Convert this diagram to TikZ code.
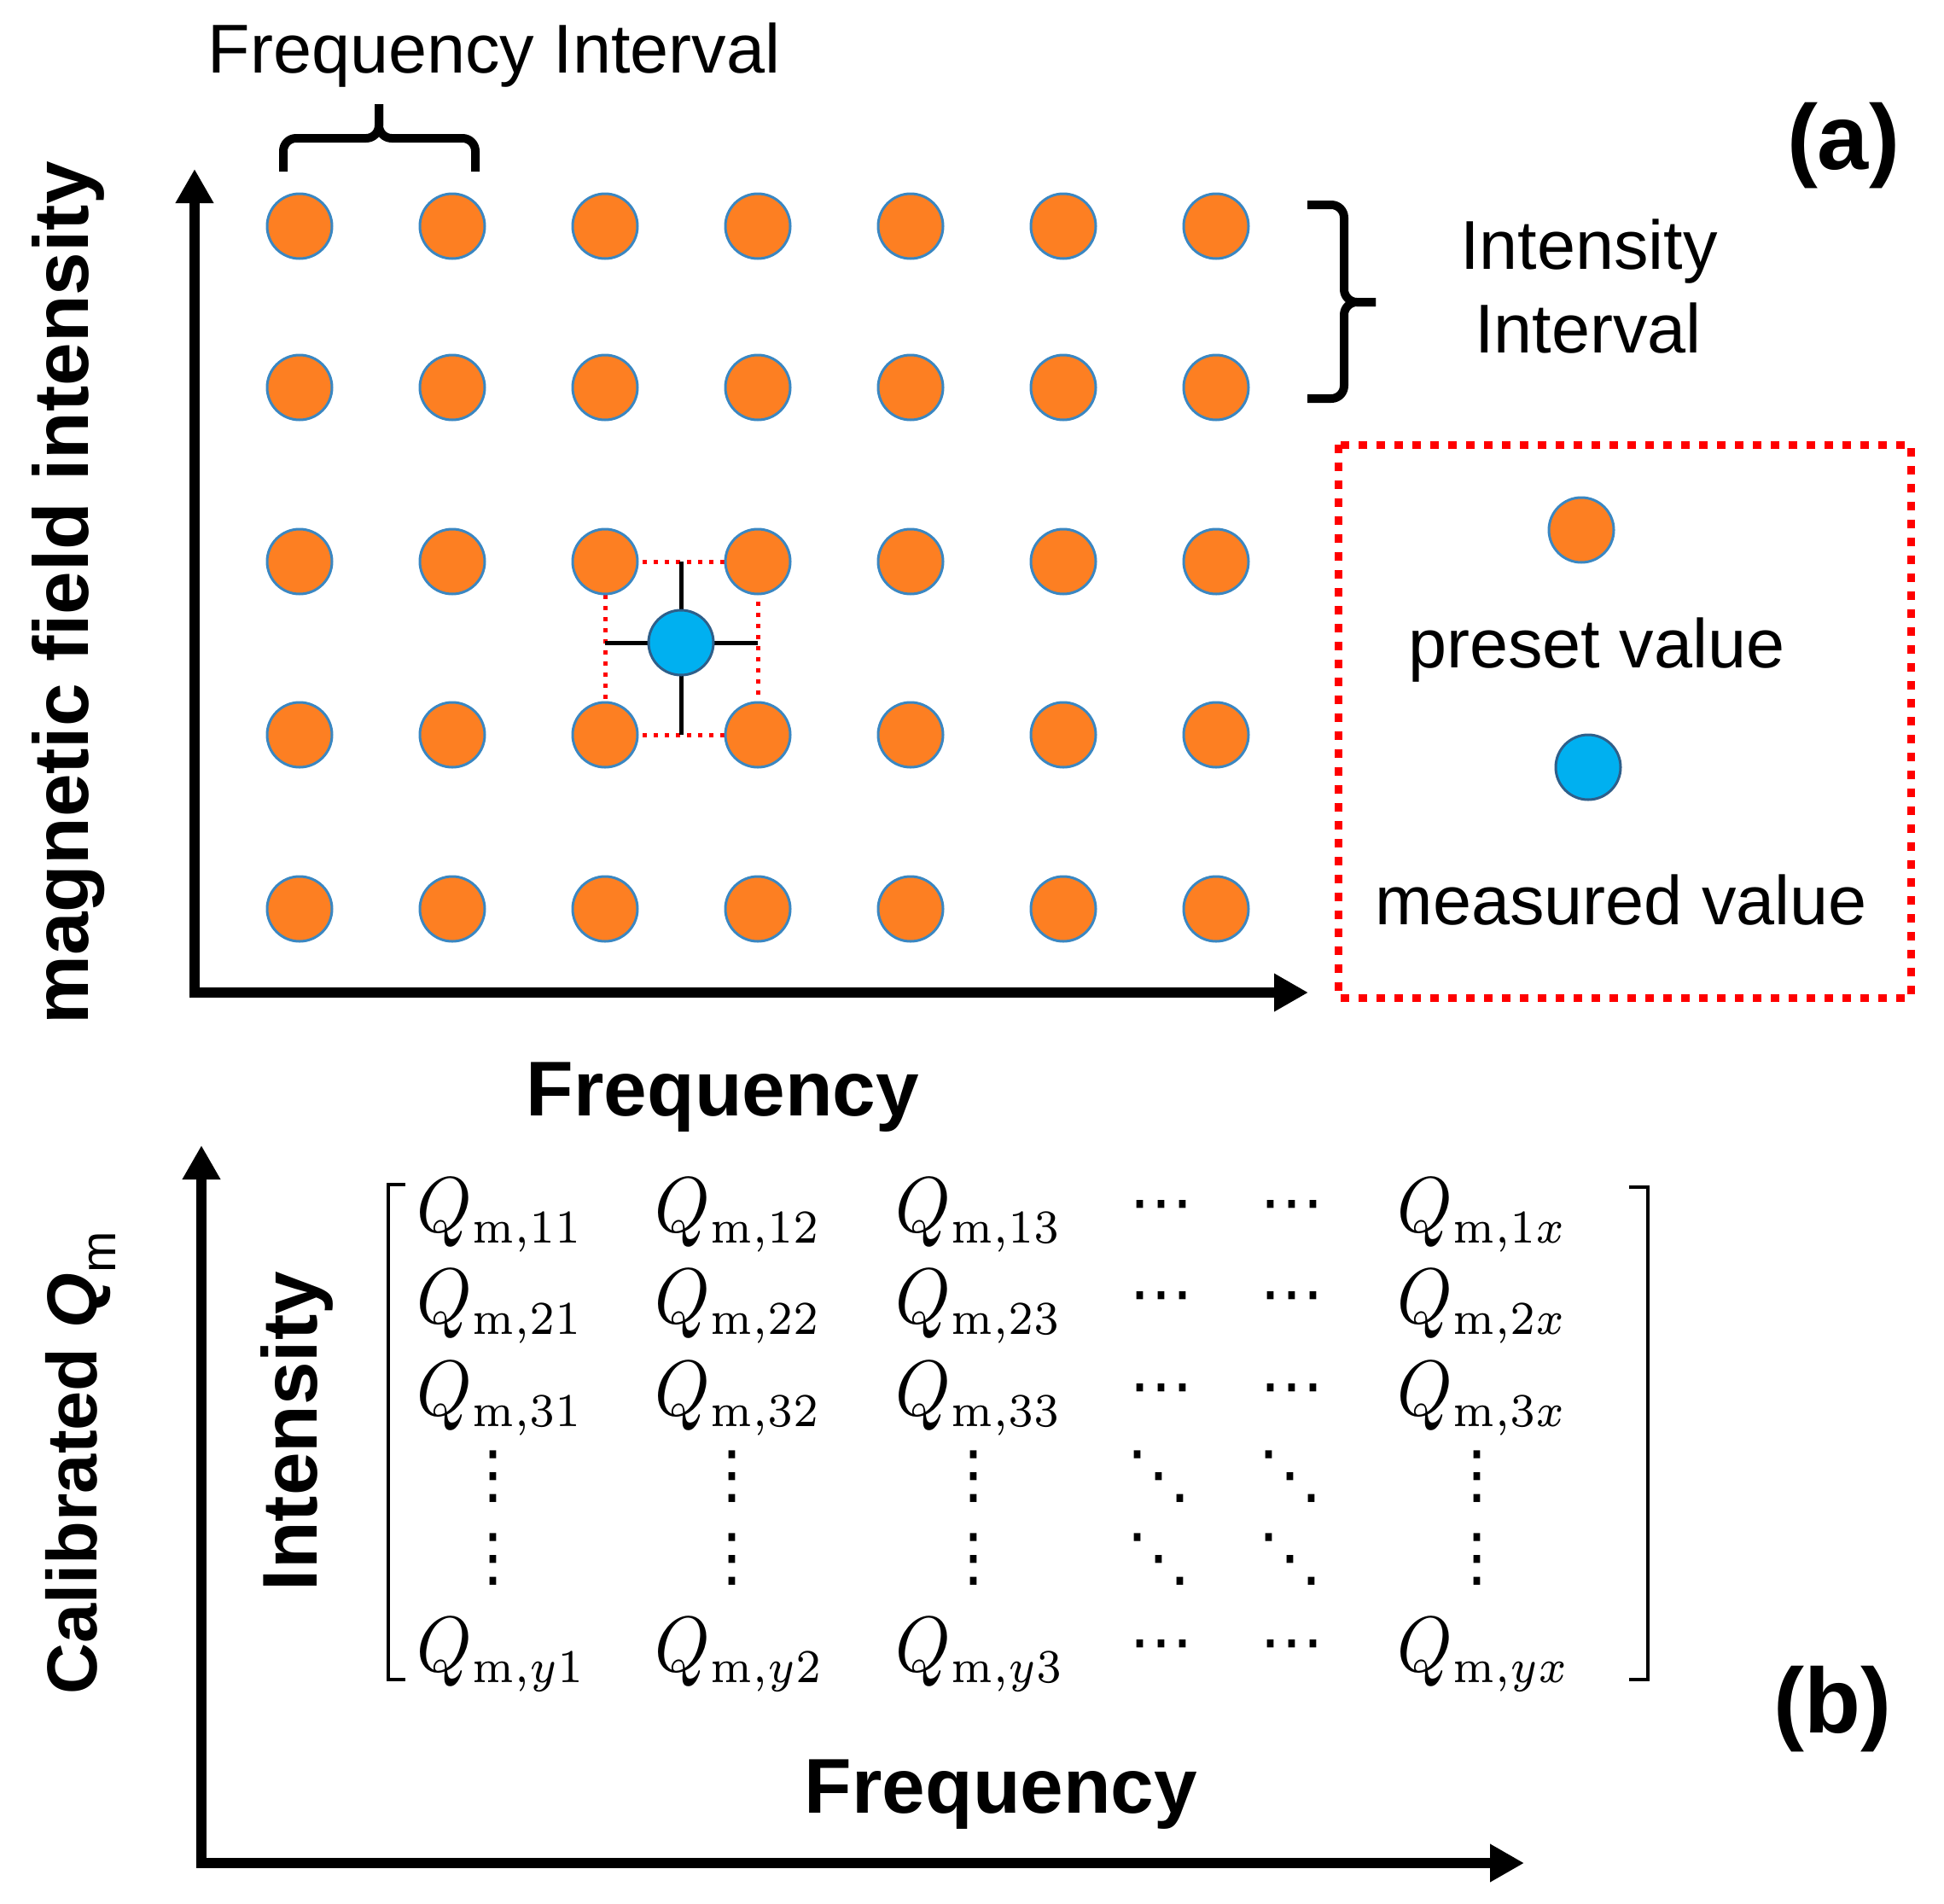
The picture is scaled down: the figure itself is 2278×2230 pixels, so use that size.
\documentclass[tikz,border=0pt]{standalone}
\usepackage{fontspec}
\usepackage{amsmath}
\newfontfamily\arialf{Liberation Sans}
\newfontfamily\djv{DejaVu Sans}
\DeclareMathSizes{10}{10}{6}{5}
\usetikzlibrary{arrows.meta}
\definecolor{dotorange}{HTML}{FD7F22}
\definecolor{dotedge}{HTML}{3A87C2}
\definecolor{measblue}{HTML}{00B0F0}
\definecolor{measedge}{HTML}{2F5F8A}
\newcommand{\Qe}[1]{\scalebox{8.2}[9.2]{\fontsize{10}{12}\selectfont$Q_{\mathrm{m},#1}$}}
\tikzset{
  axisline/.style={line width=12pt, line join=miter,
    {Triangle[length=40pt,width=42pt]}-{Triangle[length=40pt,width=42pt]}},
  preset/.style={circle, inner sep=0pt, minimum size=76pt, fill=dotorange, draw=dotedge, line width=3pt},
  measured/.style={preset, fill=measblue, draw=measedge},
  bracepath/.style={line width=10pt, rounded corners=15pt},
  reddot/.style={red, line width=5pt, dash pattern=on 5pt off 8pt},
  legendbox/.style={red, line width=9pt, dash pattern=on 10pt off 11pt},
  crossline/.style={line width=5pt},
  bracket/.style={line width=4pt},
  lbl/.style={inner sep=0pt, anchor=base, font=\arialf\fontsize{81}{97}\selectfont},
  blbl/.style={inner sep=0pt, anchor=base, font=\arialf\bfseries\fontsize{91}{109}\selectfont},
  panel/.style={inner sep=0pt, anchor=base, font=\arialf\bfseries\fontsize{108}{130}\selectfont},
  entry/.style={inner sep=0pt, anchor=base west},
  ell/.style={inner sep=0pt, anchor=center, font=\djv\fontsize{75}{90}\selectfont},
}
\begin{document}
\begin{tikzpicture}[x=1pt, y=-1pt]
\useasboundingbox[fill=white] (0,0) rectangle (2278,2230);

% ---------- panel (a) ----------
\coordinate (aY) at (228,198);
\coordinate (aO) at (228,1163);
\coordinate (aX) at (1533,1163);
\draw[axisline] (aY) -- (aO) -- (aX);

\foreach \c [count=\i] in {351,530,709,888,1067,1246,1425}
  \foreach \r [count=\j] in {265,454,658,861,1065}
    \coordinate (c\j\i) at (\c,\r);

\coordinate (m) at (798,753);
\draw[reddot] (c33) rectangle (c44);
\draw[crossline] (m -| c33) -- (m -| c34);
\draw[crossline] (m |- c33) -- (m |- c43);

\foreach \i in {1,...,7}
  \foreach \j in {1,...,5}
    \node[preset] (p\j\i) at (c\j\i) {};
\node[measured] (meas) at (m) {};

% frequency interval brace
\draw[bracepath] (332,201) -- (332,162) -- (444,162) -- (444,122);
\draw[bracepath] (557,201) -- (557,162) -- (444,162) -- (444,122);
\node[lbl] (fint) at (579,85) {Frequency Interval};

% intensity interval brace
\draw[bracepath] (1532,240) -- (1575,240) -- (1575,354) -- (1612,354);
\draw[bracepath] (1532,467) -- (1575,467) -- (1575,354) -- (1612,354);
\node[lbl] (iint1) at (1862,315) {Intensity};
\node[lbl] (iint2) at (1861,413) {Interval};

\node[panel] (pa) at (2160,198) {(a)};

% legend
\draw[legendbox] (1568,521) rectangle (2239,1169);
\node[preset] (legp) at (1853,621) {};
\node[lbl] (legpt) at (1871,782) {preset value};
\node[measured] (legm) at (1861,899) {};
\node[lbl] (legmt) at (1900,1083) {measured value};

\node[blbl] (freqa) at (847,1307) {Frequency};
\node[blbl, rotate=90] (ylaba) at (103,695) {magnetic field intensity};

% ---------- panel (b) ----------
\coordinate (bY) at (236,1342);
\coordinate (bO) at (236,2183);
\coordinate (bX) at (1786,2183);
\draw[axisline] (bY) -- (bO) -- (bX);

\node[inner sep=0pt, anchor=base, rotate=90, font=\arialf\bfseries\fontsize{83}{100}\selectfont]
  (ylabb) at (113,1714) {Calibrated \textit{Q}\textsubscript{\mdseries m}};
\node[blbl, rotate=90] (intb) at (371,1677) {Intensity};
\node[blbl] (freqb) at (1173,2124) {Frequency};
\node[panel] (pb) at (2147,2030) {(b)};

% brackets
\draw[bracket] (475,1388) -- (455,1388) -- (455,1968) -- (475,1968);
\draw[bracket] (1909,1391) -- (1931,1391) -- (1931,1968) -- (1909,1968);

% entries
\node[entry] (q11) at (488,1443) {\Qe{11}};
\node[entry] (q12) at (767,1443) {\Qe{12}};
\node[entry] (q13) at (1049,1443) {\Qe{13}};
\node[entry] (q1x) at (1637,1443) {\Qe{1x}};
\node[entry] (q21) at (488,1550) {\Qe{21}};
\node[entry] (q22) at (767,1550) {\Qe{22}};
\node[entry] (q23) at (1049,1550) {\Qe{23}};
\node[entry] (q2x) at (1637,1550) {\Qe{2x}};
\node[entry] (q31) at (488,1658) {\Qe{31}};
\node[entry] (q32) at (767,1658) {\Qe{32}};
\node[entry] (q33) at (1049,1658) {\Qe{33}};
\node[entry] (q3x) at (1637,1658) {\Qe{3x}};
\node[entry] (qy1) at (488,1958) {\Qe{y1}};
\node[entry] (qy2) at (767,1958) {\Qe{y2}};
\node[entry] (qy3) at (1049,1958) {\Qe{y3}};
\node[entry] (qyx) at (1637,1958) {\Qe{yx}};

% ellipses
\foreach \b [count=\k] in {1443,1550,1658,1958} {
  \node[ell] (ha\k) at (1361,\b-23) {⋯};
  \node[ell] (hb\k) at (1514,\b-23) {⋯};
}
\foreach \y [count=\k] in {1730,1827} {
  \node[ell] (v1\k) at (578,\y) {⋮};
  \node[ell] (v2\k) at (858,\y) {⋮};
  \node[ell] (v3\k) at (1141,\y) {⋮};
  \node[ell] (v6\k) at (1731,\y) {⋮};
  \node[ell] (d4\k) at (1358,\y) {⋱};
  \node[ell] (d5\k) at (1512,\y) {⋱};
}
\end{tikzpicture}
\end{document}
